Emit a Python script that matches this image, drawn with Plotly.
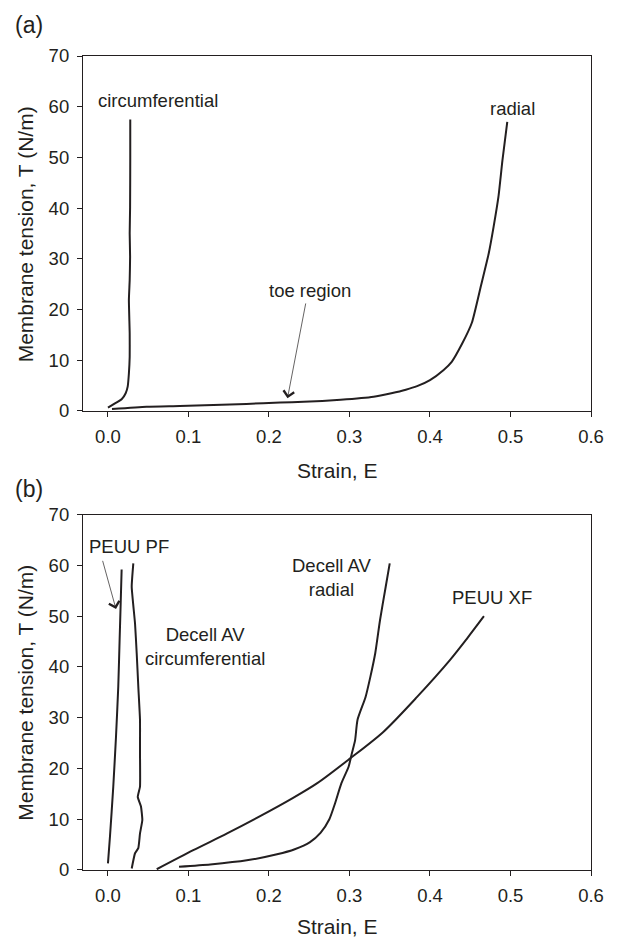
import plotly.graph_objects as go
from plotly.subplots import make_subplots

# (a) native valve tissue
circ_E = [0.0, 0.0087, 0.017, 0.022, 0.0245, 0.026, 0.027, 0.027, 0.026, 0.027, 0.0275, 0.027, 0.0275, 0.0277, 0.0277]
circ_T = [0.65, 1.5, 2.3, 3.5, 4.8, 7.4, 10.7, 15.3, 21.9, 25.8, 30.4, 35.0, 40.2, 50.1, 57.5]

rad_E = [0.005, 0.048, 0.089, 0.131, 0.172, 0.214, 0.243, 0.289, 0.33, 0.352, 0.37, 0.384, 0.40,
         0.417, 0.427, 0.44, 0.452, 0.463, 0.473, 0.479, 0.485, 0.49, 0.496]
rad_T = [0.4, 0.85, 1.0, 1.2, 1.4, 1.65, 1.8, 2.2, 2.8, 3.5, 4.2, 4.9, 6.1,
         8.1, 9.7, 13.3, 17.4, 24.5, 31.1, 36.3, 42.2, 49.4, 57.0]

# (b) scaffolds vs decellularized valve
pf_E = [0.0, 0.0025, 0.0066, 0.010, 0.0128, 0.0146, 0.0158, 0.017]
pf_T = [1.3, 6.6, 16.4, 26.3, 36.1, 46.0, 52.5, 59.2]

dc_circ_E = [0.0295, 0.0336, 0.0377, 0.0398, 0.0427, 0.041, 0.037, 0.0398, 0.0398, 0.0398,
             0.0377, 0.0357, 0.0336, 0.0295, 0.0315]
dc_circ_T = [0.3, 3.3, 4.3, 7.2, 9.85, 12.5, 14.4, 16.4, 23.0, 29.6,
             36.1, 42.7, 48.6, 55.8, 60.4]

dc_rad_E = [0.0883, 0.127, 0.1725, 0.21, 0.232, 0.251, 0.264, 0.275, 0.282, 0.29, 0.299, 0.303,
            0.307, 0.31, 0.32, 0.326, 0.332, 0.338, 0.345, 0.35]
dc_rad_T = [0.65, 1.1, 1.9, 3.1, 4.1, 5.5, 7.3, 10.0, 13.1, 17.1, 20.4, 23.0,
            25.6, 29.6, 34.1, 38.1, 42.7, 49.3, 55.8, 60.4]

xf_E = [0.0606, 0.106, 0.148, 0.189, 0.23, 0.26, 0.301, 0.342, 0.384, 0.425, 0.446, 0.467]
xf_T = [0.15, 3.9, 7.2, 10.6, 14.2, 17.1, 22.0, 27.2, 34.1, 41.4, 45.6, 50.0]

x_ticks = [0.0, 0.1, 0.2, 0.3, 0.4, 0.5, 0.6]
y_ticks = [0, 10, 20, 30, 40, 50, 60, 70]

ink = "#231f20"
font = "Liberation Sans, Arial, sans-serif"

fig = make_subplots(rows=2, cols=1)

for E, T, r, smooth in [(circ_E, circ_T, 1, 0.4), (rad_E, rad_T, 1, 0.5),
                        (pf_E, pf_T, 2, 0.5), (dc_circ_E, dc_circ_T, 2, 0.4),
                        (dc_rad_E, dc_rad_T, 2, 0.6), (xf_E, xf_T, 2, 0.8)]:
    fig.add_trace(go.Scatter(x=E, y=T, mode="lines",
                             line=dict(color=ink, width=2, shape="spline", smoothing=smooth),
                             showlegend=False, hoverinfo="skip"), row=r, col=1)

axis_common = dict(showline=True, linecolor=ink, linewidth=1.2, mirror=True,
                   ticks="outside", ticklen=5, tickwidth=1.2, tickcolor=ink,
                   showgrid=False, zeroline=False,
                   tickfont=dict(family=font, size=18.5, color=ink))
fig.update_xaxes(range=[-0.031, 0.6], tickvals=x_ticks, tickformat=".1f",
                 ticklabelstandoff=4, **axis_common)
fig.update_yaxes(range=[0, 70], tickvals=y_ticks, ticklabelstandoff=4, **axis_common)
fig.update_layout(yaxis=dict(domain=[0.5639, 1.0]), yaxis2=dict(domain=[0.0, 0.4365]))

txt = dict(family=font, size=18.5, color=ink)
big = dict(family=font, size=21, color=ink)
paper = dict(xref="paper", yref="paper", xanchor="center", yanchor="middle", showarrow=False)
annotations = [
    # panel letters
    dict(text="(a)", x=-0.106, y=1.038, font=dict(family=font, size=23, color=ink), **paper),
    dict(text="(b)", x=-0.106, y=0.468, font=dict(family=font, size=23, color=ink), **paper),
    # axis titles
    dict(text="Strain, E", x=0.5, y=0.4914, font=big, **paper),
    dict(text="Strain, E", x=0.5, y=-0.0688, font=big, **paper),
    dict(text="Membrane tension, T (N/m)", x=-0.114, y=0.781, textangle=-90, font=big, **paper),
    dict(text="Membrane tension, T (N/m)", x=-0.114, y=0.218, textangle=-90, font=big, **paper),
    # curve labels (a)
    dict(text="circumferential", x=0.0616, y=61.3, xref="x", yref="y", showarrow=False, font=txt),
    dict(text="radial", x=0.503, y=59.6, xref="x", yref="y", showarrow=False, font=txt),
    dict(text="toe region", x=0.251, y=23.8, xref="x", yref="y", showarrow=False, font=txt),
    dict(text="", x=0.223, y=2.5, ax=0.246, ay=21.5, xref="x", yref="y", axref="x", ayref="y",
         showarrow=True, arrowhead=4, arrowsize=3, arrowwidth=0.7, arrowcolor=ink),
    # curve labels (b)
    dict(text="PEUU PF", x=0.0265, y=63.7, xref="x2", yref="y2", showarrow=False, font=txt),
    dict(text="", x=0.010, y=51.4, ax=-0.0071, ay=61.2, xref="x2", yref="y2", axref="x2", ayref="y2",
         showarrow=True, arrowhead=4, arrowsize=3, arrowwidth=0.7, arrowcolor=ink),
    dict(text="Decell AV<br>circumferential", x=0.1207, y=44.0, xref="x2", yref="y2",
         showarrow=False, font=txt),
    dict(text="Decell AV<br>radial", x=0.278, y=57.6, xref="x2", yref="y2", showarrow=False, font=txt),
    dict(text="PEUU XF", x=0.477, y=53.7, xref="x2", yref="y2", showarrow=False, font=txt),
]

fig.update_layout(
    width=619, height=939,
    margin=dict(l=83, r=28, t=56, b=69),
    plot_bgcolor="white", paper_bgcolor="white",
    annotations=annotations,
)

fig.write_html("out.html", config={"displayModeBar": False},
               post_script="document.body.style.margin='0';")
